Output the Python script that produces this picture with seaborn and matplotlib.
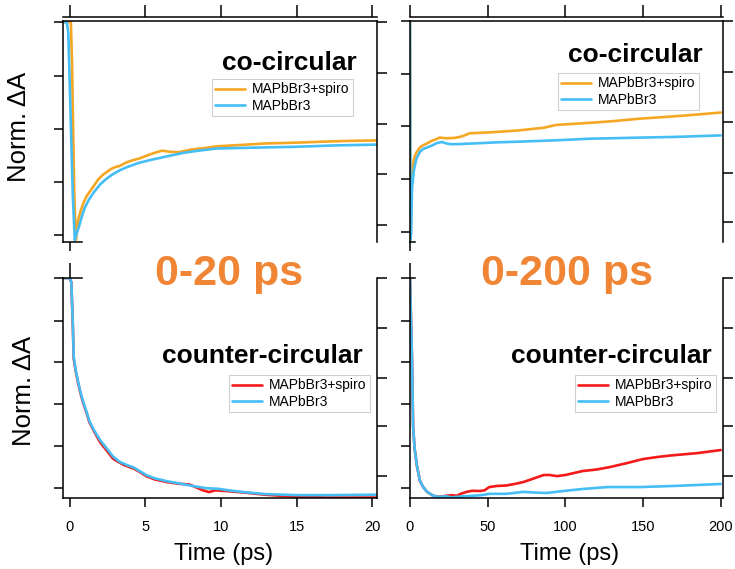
import numpy as np
import pandas as pd
import seaborn as sns
import matplotlib
matplotlib.use("Agg")
import matplotlib.pyplot as plt

# ---------------- data ----------------
legend_labels = ["MAPbBr3+spiro", "MAPbBr3"]
panel_titles = ["co-circular", "co-circular", "counter-circular", "counter-circular"]
range_labels = ["0-20 ps", "0-200 ps"]
x_ticks_short = [0, 5, 10, 15, 20]
x_ticks_long = [0, 50, 100, 150, 200]

# co-circular, 0-20 ps
co20_spiro_t = [-0.45, 0.07, 0.15, 0.22, 0.30, 0.40, 0.47, 0.55, 0.7, 0.9, 1.1, 1.3, 1.6, 1.9, 2.2,
                2.4, 2.7, 3.0, 3.3, 3.7, 4.1, 4.6, 5.1, 5.6, 6.1, 6.6, 7.2, 8.0, 9.0, 9.7, 11.0,
                12.9, 15.0, 17.0, 18.5, 20.3]
co20_spiro_y = [0, 0, -0.2, -0.5, -0.8, -1.0, -0.96, -0.91, -0.87, -0.83, -0.80, -0.78, -0.75, -0.72,
                -0.70, -0.69, -0.675, -0.665, -0.66, -0.645, -0.635, -0.626, -0.612, -0.60, -0.59,
                -0.595, -0.597, -0.585, -0.577, -0.57, -0.565, -0.557, -0.553, -0.548, -0.545, -0.543]
co20_pure_t = [-0.45, -0.2, -0.1, 0.0, 0.1, 0.2, 0.33, 0.45, 0.6, 0.8, 1.0, 1.3, 1.6, 2.0, 2.4, 2.8,
               3.3, 3.8, 4.6, 5.5, 6.5, 7.5, 8.5, 9.7, 11.0, 12.9, 15.0, 17.5, 20.3]
co20_pure_y = [0, 0, -0.05, -0.3, -0.55, -0.8, -1.0, -0.97, -0.94, -0.89, -0.85, -0.81, -0.78, -0.745,
               -0.72, -0.70, -0.68, -0.665, -0.645, -0.63, -0.615, -0.60, -0.59, -0.58, -0.578,
               -0.575, -0.572, -0.566, -0.562]

# co-circular, 0-200 ps
co200_spiro_t = [0, 0.25, 0.6, 1.3, 2.5, 4, 6.4, 8.5, 10.9, 14, 17, 19, 23, 27, 30, 34, 38.5, 45, 51,
                 60, 70, 79, 86, 94, 105, 116, 130, 148, 165, 180, 200]
co200_spiro_y = [0, -0.98, -0.95, -0.69, -0.63, -0.60, -0.575, -0.565, -0.557, -0.545, -0.537, -0.53,
                 -0.533, -0.532, -0.53, -0.523, -0.51, -0.508, -0.506, -0.502, -0.497, -0.49, -0.485,
                 -0.472, -0.467, -0.462, -0.455, -0.443, -0.435, -0.427, -0.415]
co200_pure_t = [0, 0.3, 0.7, 1.3, 2.5, 4, 6.4, 8.5, 11, 14, 17, 20.5, 23, 26, 30, 40.5, 55, 73, 95,
                116, 130, 148, 170, 200]
co200_pure_y = [0, -1.0, -0.97, -0.76, -0.68, -0.63, -0.595, -0.582, -0.575, -0.567, -0.556, -0.55,
                -0.556, -0.56, -0.56, -0.557, -0.552, -0.548, -0.542, -0.535, -0.533, -0.53, -0.527,
                -0.52]

# counter-circular, 0-20 ps
ct20_spiro_t = [-0.45, 0.0, 0.1, 0.2, 0.26, 0.4, 0.55, 0.7, 0.88, 1.1, 1.3, 1.6, 2.0, 2.4, 2.85, 3.2,
                3.6, 4.2, 4.6, 5.05, 5.6, 6.4, 7.2, 7.9, 8.3, 8.8, 9.2, 9.6, 10.3, 11.5, 12.9, 14.0,
                15.1, 17.0, 20.3]
ct20_spiro_y = [1, 1, 0.98, 0.78, 0.63, 0.57, 0.52, 0.475, 0.43, 0.385, 0.34, 0.30, 0.25, 0.215,
                0.175, 0.16, 0.145, 0.13, 0.115, 0.095, 0.08, 0.068, 0.06, 0.057, 0.045, 0.03, 0.022,
                0.03, 0.027, 0.02, 0.01, 0.005, 0.0, -0.003, -0.003]
ct20_pure_t = [-0.45, 0.0, 0.1, 0.2, 0.26, 0.4, 0.55, 0.7, 0.88, 1.1, 1.3, 1.6, 2.0, 2.4, 2.85, 3.3,
               3.8, 4.2, 5.05, 5.6, 6.4, 7.2, 8.1, 9.0, 9.8, 10.5, 11.5, 12.9, 15.1, 17.0, 20.3]
ct20_pure_y = [1, 1, 0.98, 0.79, 0.64, 0.575, 0.525, 0.48, 0.435, 0.39, 0.345, 0.305, 0.26, 0.225,
               0.185, 0.16, 0.145, 0.135, 0.10, 0.085, 0.072, 0.062, 0.05, 0.04, 0.037, 0.03, 0.022,
               0.013, 0.008, 0.008, 0.01]

# counter-circular, 0-200 ps
ct200_spiro_t = [0, 0.5, 1.3, 2, 3, 4.5, 6.4, 8.5, 11, 15, 19, 23, 27, 30, 33, 36.5, 40, 45, 48, 51,
                 56, 62, 68, 73, 80, 86, 90, 94.5, 100, 111, 120, 128.5, 140, 150, 160, 169, 185, 200]
ct200_spiro_y = [1, 0.85, 0.627, 0.32, 0.22, 0.14, 0.073, 0.045, 0.023, 0.005, 0.0, 0.005, 0.008,
                 0.005, 0.015, 0.023, 0.028, 0.027, 0.03, 0.045, 0.05, 0.052, 0.06, 0.068, 0.085,
                 0.10, 0.10, 0.095, 0.10, 0.118, 0.125, 0.136, 0.155, 0.173, 0.183, 0.19, 0.20, 0.214]
ct200_pure_t = [0, 0.5, 1.3, 2, 3, 4.5, 6.4, 8.5, 11, 15, 19, 23, 27, 30, 35, 40.5, 46, 51, 62, 73,
                80, 88, 100, 111, 127, 148, 170, 200]
ct200_pure_y = [1, 0.85, 0.627, 0.32, 0.22, 0.14, 0.073, 0.045, 0.023, 0.005, 0.0, 0.003, -0.002,
                0.0, 0.003, 0.005, 0.008, 0.014, 0.014, 0.023, 0.02, 0.018, 0.028, 0.036, 0.045,
                0.045, 0.05, 0.059]

# ---------------- style ----------------
sns.set_style("white")
plt.rcParams["font.family"] = ["Liberation Sans", "DejaVu Sans"]
plt.rcParams["text.color"] = "black"
plt.rcParams["axes.labelcolor"] = "black"
plt.rcParams["xtick.color"] = "black"
plt.rcParams["ytick.color"] = "black"
plt.rcParams["axes.edgecolor"] = "black"

C_ORANGE = "#F5A623"
C_BLUE = "#45BDF5"
C_RED = "#F41A1A"
C_BIG = "#EF8535"
LW = 1.9
SPW = 1.1

W, H = 735, 569
fig = plt.figure(figsize=(W / 100, H / 100), dpi=100)


def frac(x, y):
    return x / W, 1 - y / H


def rect(l, t, r, b):
    return [l / W, 1 - b / H, (r - l) / W, (b - t) / H]


def make_panel(box, xlim, ylim, xticks, lticks, rticks, top_panel, series, colors,
               legend_xy, stub):
    ax = fig.add_axes(rect(*box))
    for (t, y), c, lab in zip(series, colors, legend_labels):
        df = pd.DataFrame({"t": t, "y": y})
        sns.lineplot(data=df, x="t", y="y", ax=ax, color=c, lw=LW, label=lab,
                     estimator=None, sort=False)
    ax.set_xlim(*xlim)
    ax.set_ylim(*ylim)
    ax.set_xlabel("")
    ax.set_ylabel("")
    ax.set_yticks(lticks)
    ax.set_yticklabels([])
    ax.tick_params(axis="y", left=True, right=False, direction="out", length=6.5,
                   width=SPW, labelleft=False, color="black")
    for s in ax.spines.values():
        s.set_linewidth(SPW)
        s.set_color("black")
    ax.spines["right"].set_visible(False)

    axr = ax.twinx()
    axr.set_ylim(*ylim)
    axr.set_yticks(rticks)
    axr.tick_params(axis="y", right=True, direction="out", length=7, width=SPW,
                    labelright=False, color="black")
    for k, s in axr.spines.items():
        s.set_visible(k == "right")
        s.set_linewidth(SPW)
        s.set_color("black")
    axr.grid(False)

    axt = ax.twiny()
    axt.set_xlim(*xlim)
    axt.tick_params(axis="x", top=True, bottom=False, direction="out", width=SPW,
                    labeltop=False, labelbottom=False, color="black")
    for k, s in axt.spines.items():
        s.set_visible(k == "top")
        s.set_linewidth(SPW)
        s.set_color("black")
    axt.grid(False)

    if top_panel:
        ax.set_xticks([0])
        ax.tick_params(axis="x", bottom=True, direction="out", length=6.5, width=SPW,
                       labelbottom=False, color="black")
        ax.spines["bottom"].set_bounds(xlim[0], stub)
        axt.set_xticks(xticks)
        axt.tick_params(axis="x", length=8.5)
        axt.spines["top"].set_position(("outward", 3))
    else:
        ax.set_xticks(xticks)
        ax.set_xticklabels([str(v) for v in xticks])
        ax.tick_params(axis="x", bottom=True, direction="out", length=6.5, width=SPW,
                       labelbottom=True, labelsize=10.5, pad=9, color="black",
                       labelcolor="black")
        ax.spines["top"].set_visible(False)
        axt.set_xticks([0])
        axt.tick_params(axis="x", length=11)
        axt.spines["top"].set_bounds(xlim[0], stub)

    leg = ax.legend(loc="upper left", bbox_to_anchor=frac(*legend_xy),
                    bbox_transform=fig.transFigure, fontsize=10, frameon=True,
                    fancybox=False, edgecolor="#d0d0d0", framealpha=1, borderpad=0.25,
                    labelspacing=0.15, handlelength=2.1, handletextpad=0.55,
                    borderaxespad=0, labelcolor="black")
    leg.get_frame().set_linewidth(0.8)
    for h in leg.get_lines():
        h.set_linewidth(LW)
    return ax


# top-left
make_panel((63, 21, 377, 242), (-0.45, 20.3), (-1.009, 0.005), x_ticks_short,
           [0, -0.247, -0.489, -0.735, -0.977], [0, -0.233, -0.466, -0.699, -0.932], True,
           [(co20_spiro_t, co20_spiro_y), (co20_pure_t, co20_pure_y)], [C_ORANGE, C_BLUE],
           (212, 79), 0.8)
# top-right
make_panel((410, 21, 723, 242), (0, 201.5), (-1.009, 0.005), x_ticks_long,
           [0.005, -0.237, -0.479, -0.721, -0.963], [0.01, -0.223, -0.456, -0.689, -0.918], True,
           [(co200_spiro_t, co200_spiro_y), (co200_pure_t, co200_pure_y)], [C_ORANGE, C_BLUE],
           (558, 73), 3)
# bottom-left
make_panel((63, 278, 377, 498), (-0.45, 20.3), (-0.005, 1.0), x_ticks_short,
           [1, 0.805, 0.614, 0.423, 0.232, 0.041], [1, 0.773, 0.545, 0.323, 0.095], False,
           [(ct20_spiro_t, ct20_spiro_y), (ct20_pure_t, ct20_pure_y)], [C_RED, C_BLUE],
           (229, 375), 0.8)
# bottom-right
make_panel((410, 278, 723, 498), (0, 201.5), (-0.005, 1.0), x_ticks_long,
           [1, 0.805, 0.614, 0.423, 0.232, 0.041], [1, 0.773, 0.545, 0.323, 0.095], False,
           [(ct200_spiro_t, ct200_spiro_y), (ct200_pure_t, ct200_pure_y)], [C_RED, C_BLUE],
           (575, 375), 3)

# panel titles
for (x, y), txt in zip([(357, 70), (703, 62), (363, 363), (712, 363)], panel_titles):
    fig.text(*frac(x, y), txt, ha="right", va="baseline", fontsize=19, fontweight="bold",
             color="black")

# big range labels
for (x, y), txt in zip([(229, 285), (567, 285)], range_labels):
    fig.text(*frac(x, y), txt, ha="center", va="baseline", fontsize=31, fontweight="bold",
             color=C_BIG)

# axis labels
for (x, y) in [(19, 127), (24, 391)]:
    fig.text(*frac(x, y), "Norm. ΔA", rotation=90, ha="center", va="center", fontsize=18.5,
             color="black")
for x in [224, 570]:
    fig.text(*frac(x, 560), "Time (ps)", ha="center", va="baseline", fontsize=17,
             color="black")

fig.savefig("out.png", dpi=100)
